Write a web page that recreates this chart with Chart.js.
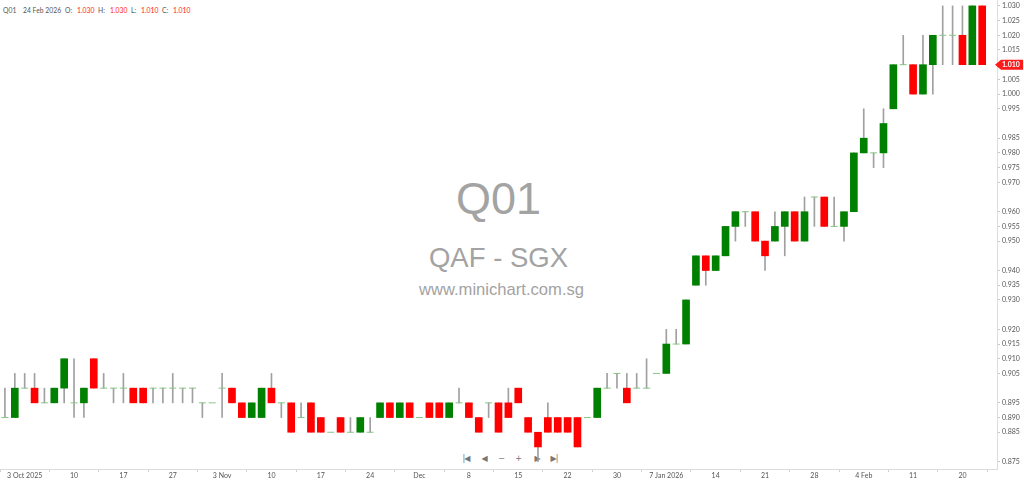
<!DOCTYPE html>
<html>
<head>
<meta charset="utf-8">
<script src="https://cdn.jsdelivr.net/npm/chart.js@4.4.1/dist/chart.umd.min.js"></script>
<style>
  html, body { margin: 0; padding: 0; background: #fff; }
  #wrap { position: relative; width: 1024px; height: 484px; overflow: hidden; font-family: Lato, "Open Sans", sans-serif; }
  #chart { position: absolute; left: 0; top: 0; }
  .wm { position: absolute; left: 0; width: 997px; text-align: center; color: #a3a3a3; font-family: "Liberation Sans", Arial, sans-serif; line-height: 1; white-space: nowrap; }
  .hd { position: absolute; top: 6px; font-size: 6.8px; line-height: 8px; color: #555; white-space: nowrap; }
  .hd.v { color: #ff2020; }
  .nav { position: absolute; top: 454px; font-family: "DejaVu Sans", sans-serif; font-size: 8px; line-height: 10px; color: #777; transform: translateX(-50%); letter-spacing: -1px; white-space: nowrap; font-variant-emoji: text; }
</style>
</head>
<body>
<div id="wrap">
  <div class="wm" style="top:176px; font-size:45px;">Q01</div>
  <div class="wm" style="top:244px; font-size:27.5px;">QAF - SGX</div>
  <div class="wm" style="top:282px; font-size:16.6px; left:3px;">www.minichart.com.sg</div>

  <span class="hd" style="left:3px;">Q01</span>
  <span class="hd" style="left:23px;">24 Feb 2026</span>
  <span class="hd" style="left:65px;">O:</span>
  <span class="hd v" style="left:77px;">1.030</span>
  <span class="hd" style="left:98px;">H:</span>
  <span class="hd v" style="left:110px;">1.030</span>
  <span class="hd" style="left:131px;">L:</span>
  <span class="hd v" style="left:141px;">1.010</span>
  <span class="hd" style="left:162px;">C:</span>
  <span class="hd v" style="left:173px;">1.010</span>

  <span class="nav" style="left:466px;">|&#x25C0;&#xFE0E;</span>
  <span class="nav" style="left:484px;">&#x25C0;&#xFE0E;</span>
  <span class="nav" style="left:501px;">−</span>
  <span class="nav" style="left:518px;">+</span>
  <span class="nav" style="left:537px;">&#x25B6;&#xFE0E;</span>
  <span class="nav" style="left:554px;">&#x25B6;&#xFE0E;|</span>

  <canvas id="chart" width="1024" height="484"></canvas>
</div>

<script>
// trading days (SGX), 1 Oct 2025 - 24 Feb 2026
const dates = [
  "2025-10-01","2025-10-02","2025-10-03","2025-10-06","2025-10-07","2025-10-08","2025-10-09","2025-10-10","2025-10-13","2025-10-14",
  "2025-10-15","2025-10-16","2025-10-17","2025-10-21","2025-10-22","2025-10-23","2025-10-24","2025-10-27","2025-10-28","2025-10-29",
  "2025-10-30","2025-10-31","2025-11-03","2025-11-04","2025-11-05","2025-11-06","2025-11-07","2025-11-10","2025-11-11","2025-11-12",
  "2025-11-13","2025-11-14","2025-11-17","2025-11-18","2025-11-19","2025-11-20","2025-11-21","2025-11-24","2025-11-25","2025-11-26",
  "2025-11-27","2025-11-28","2025-12-01","2025-12-02","2025-12-03","2025-12-04","2025-12-05","2025-12-08","2025-12-09","2025-12-10",
  "2025-12-11","2025-12-12","2025-12-15","2025-12-16","2025-12-17","2025-12-18","2025-12-19","2025-12-22","2025-12-23","2025-12-24",
  "2025-12-26","2025-12-29","2025-12-30","2025-12-31","2026-01-02","2026-01-05","2026-01-06","2026-01-07","2026-01-08","2026-01-09",
  "2026-01-12","2026-01-13","2026-01-14","2026-01-15","2026-01-16","2026-01-19","2026-01-20","2026-01-21","2026-01-22","2026-01-23",
  "2026-01-26","2026-01-27","2026-01-28","2026-01-29","2026-01-30","2026-02-02","2026-02-03","2026-02-04","2026-02-05","2026-02-06",
  "2026-02-09","2026-02-10","2026-02-11","2026-02-12","2026-02-13","2026-02-16","2026-02-19","2026-02-20","2026-02-23","2026-02-24"
];

const opens = [
  0.890,0.890,0.900,0.900,0.895,0.895,0.900,0.895,0.895,0.910,
  0.900,0.900,0.900,0.900,0.900,0.900,0.900,0.900,0.900,0.900,
  0.895,0.895,0.900,0.900,0.895,0.890,0.890,0.900,0.895,0.895,
  0.890,0.895,0.890,0.885,0.890,0.885,0.885,0.885,0.890,0.895,
  0.890,0.895,0.890,0.895,0.895,0.890,0.895,0.895,0.890,0.895,
  0.895,0.895,0.900,0.890,0.885,0.890,0.890,0.890,0.890,0.890,
  0.890,0.900,0.905,0.900,0.900,0.900,0.905,0.905,0.915,0.915,
  0.935,0.945,0.940,0.945,0.955,0.960,0.960,0.950,0.950,0.955,
  0.960,0.950,0.965,0.965,0.955,0.955,0.960,0.980,0.980,0.980,
  0.995,1.010,1.010,1.000,1.010,1.020,1.020,1.020,1.010,1.030
];
const highs = [
  0.900,0.905,0.905,0.905,0.900,0.900,0.910,0.910,0.900,0.910,
  0.905,0.900,0.905,0.900,0.900,0.900,0.900,0.905,0.900,0.900,
  0.895,0.895,0.905,0.900,0.895,0.895,0.900,0.905,0.895,0.895,
  0.895,0.895,0.890,0.885,0.890,0.890,0.890,0.890,0.895,0.895,
  0.895,0.895,0.890,0.895,0.895,0.895,0.900,0.895,0.890,0.895,
  0.895,0.900,0.900,0.890,0.885,0.895,0.890,0.890,0.890,0.890,
  0.900,0.905,0.905,0.905,0.905,0.910,0.905,0.920,0.920,0.930,
  0.945,0.945,0.945,0.955,0.960,0.960,0.960,0.950,0.960,0.960,
  0.960,0.965,0.965,0.965,0.965,0.960,0.980,0.995,0.980,0.995,
  1.010,1.020,1.010,1.020,1.020,1.030,1.030,1.030,1.030,1.030
];
const lows = [
  0.890,0.890,0.900,0.895,0.895,0.895,0.895,0.890,0.890,0.900,
  0.900,0.895,0.895,0.895,0.895,0.895,0.895,0.895,0.895,0.895,
  0.890,0.895,0.890,0.895,0.890,0.890,0.890,0.895,0.890,0.885,
  0.890,0.885,0.885,0.885,0.885,0.885,0.885,0.885,0.890,0.890,
  0.890,0.890,0.890,0.890,0.890,0.890,0.895,0.890,0.885,0.890,
  0.885,0.890,0.895,0.885,0.875,0.885,0.885,0.885,0.880,0.890,
  0.890,0.900,0.900,0.895,0.900,0.900,0.905,0.905,0.915,0.915,
  0.935,0.935,0.940,0.945,0.950,0.955,0.950,0.940,0.950,0.945,
  0.950,0.950,0.955,0.955,0.955,0.950,0.960,0.980,0.975,0.975,
  0.995,1.010,1.000,1.000,1.000,1.010,1.010,1.010,1.010,1.010
];
const closes = [
  0.890,0.900,0.900,0.895,0.895,0.900,0.910,0.895,0.900,0.900,
  0.900,0.900,0.900,0.895,0.895,0.900,0.900,0.900,0.900,0.900,
  0.895,0.895,0.900,0.895,0.890,0.895,0.900,0.895,0.895,0.885,
  0.890,0.885,0.885,0.885,0.885,0.885,0.890,0.885,0.895,0.890,
  0.895,0.890,0.890,0.890,0.890,0.895,0.895,0.890,0.885,0.895,
  0.885,0.890,0.895,0.885,0.880,0.885,0.885,0.885,0.880,0.890,
  0.900,0.900,0.905,0.895,0.900,0.900,0.905,0.915,0.915,0.930,
  0.945,0.940,0.945,0.955,0.960,0.960,0.950,0.945,0.955,0.960,
  0.950,0.960,0.965,0.955,0.955,0.960,0.980,0.985,0.980,0.990,
  1.010,1.010,1.000,1.010,1.020,1.020,1.020,1.010,1.030,1.010
];

const tickDates = ["2025-10-03","2025-10-10","2025-10-17","2025-10-27","2025-11-03","2025-11-10","2025-11-17","2025-11-24","2025-12-01","2025-12-08",
                   "2025-12-15","2025-12-22","2025-12-30","2026-01-07","2026-01-14","2026-01-21","2026-01-28","2026-02-04","2026-02-11","2026-02-20"];
const tickLabels = ["3 Oct 2025","10","17","27","3 Nov","10","17","24","Dec","8",
                    "15","22","30","7 Jan 2026","14","21","28","4 Feb","11","20"];

const priceTicks = [1.030,1.025,1.020,1.015,1.010,1.005,1.000,0.995,0.985,0.980,0.975,0.970,0.960,0.955,0.950,
                    0.940,0.935,0.930,0.920,0.915,0.910,0.905,0.895,0.890,0.885,0.875];

const GREEN = "#008000";
const RED = "#ff0000";

// one empty slot on the right, like the original
const categories = dates.concat([""]);

const bodies = [], bodyColors = [], wicks = [], dojis = [];
dates.forEach((d, i) => {
  const o = opens[i], c = closes[i];
  if (o === c) {
    bodies.push(null);
    dojis.push(c);
  } else {
    bodies.push([o, c]);
    dojis.push(null);
  }
  bodyColors.push(c > o ? GREEN : RED);
  wicks.push(highs[i] > lows[i] ? [lows[i], highs[i]] : null);
});

const priceTag = {
  id: "priceTag",
  afterDraw(chart) {
    const last = closes[closes.length - 1];
    const y = chart.scales.y.getPixelForValue(last);
    const x0 = chart.chartArea.right;
    const ctx = chart.ctx;
    ctx.save();
    ctx.fillStyle = "#ff1a1a";
    ctx.beginPath();
    ctx.moveTo(x0 - 2, y);
    ctx.lineTo(x0 + 4, y - 5);
    ctx.lineTo(1023, y - 5);
    ctx.lineTo(1023, y + 5);
    ctx.lineTo(x0 + 4, y + 5);
    ctx.closePath();
    ctx.fill();
    ctx.fillStyle = "#fff";
    ctx.font = "bold 7px Lato";
    ctx.textBaseline = "middle";
    ctx.fillText(last.toFixed(3), x0 + 5, y + 0.5);
    ctx.restore();
  }
};

// no extra room above/below the plot for the edge labels
function noPad(s) {
  s.paddingTop = 0;
  s.paddingBottom = 0;
  s.paddingLeft = 0;
  s.paddingRight = 0;
}

new Chart(document.getElementById("chart"), {
  type: "bar",
  data: {
    labels: categories,
    datasets: [
      {
        label: "wicks",
        data: wicks,
        backgroundColor: "#a0a0a0",
        barThickness: 1,
        grouped: false,
        order: 3
      },
      {
        label: "bodies",
        data: bodies,
        backgroundColor: bodyColors,
        barThickness: 7,
        grouped: false,
        borderSkipped: false,
        order: 2
      },
      {
        type: "line",
        label: "doji",
        data: dojis,
        showLine: false,
        pointStyle: "line",
        pointRadius: 3.5,
        pointBorderWidth: 1,
        pointBorderColor: "#86c586",
        order: 1
      }
    ]
  },
  options: {
    responsive: false,
    animation: false,
    layout: { padding: 0, autoPadding: false },
    plugins: { legend: { display: false }, tooltip: { enabled: false } },
    scales: {
      x: {
        offset: true,
        afterFit: s => { s.height = 15; noPad(s); },
        afterBuildTicks: s => {
          s.ticks = s.ticks.filter(t => tickDates.includes(categories[t.value]));
        },
        grid: { drawOnChartArea: false, drawTicks: true, tickLength: 3, color: "#d0d0d0" },
        border: { color: "#dcdcdc" },
        ticks: {
          autoSkip: false,
          maxRotation: 0,
          padding: 0,
          color: "#555",
          font: { family: "Lato", size: 7 },
          callback: function (v) { return tickLabels[tickDates.indexOf(categories[v])]; }
        }
      },
      y: {
        position: "right",
        min: 0.8725,
        max: 1.032,
        afterFit: s => { s.width = 27; noPad(s); },
        afterBuildTicks: s => { s.ticks = priceTicks.map(v => ({ value: v })); },
        grid: { drawOnChartArea: false, drawTicks: true, tickLength: 3, color: "#c8c8c8" },
        border: { color: "#dcdcdc" },
        ticks: {
          padding: 2,
          color: "#555",
          font: { family: "Lato", size: 7 },
          callback: v => v.toFixed(3)
        }
      }
    }
  },
  plugins: [priceTag]
});
</script>
</body>
</html>
